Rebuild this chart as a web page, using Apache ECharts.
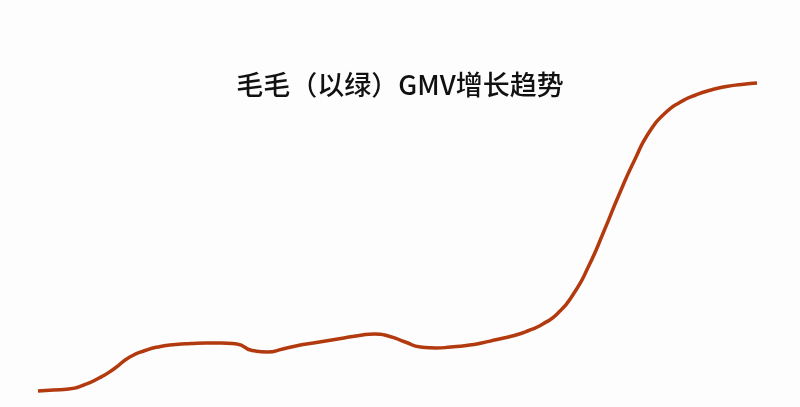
<!DOCTYPE html>
<html>
<head>
<meta charset="utf-8">
<script src="https://cdn.jsdelivr.net/npm/echarts@6/dist/echarts.min.js"></script>
<style>
  html, body { margin: 0; padding: 0; background: #fdfdfd; }
  #main { width: 800px; height: 407px; }
</style>
</head>
<body>
<div id="main"></div>
<script>
// 48 periods, GMV (arbitrary units)
var periods = [];
for (var i = 1; i <= 48; i++) periods.push(String(i));
var gmv = [9, 10, 11, 15, 22, 31.5, 43, 49.5, 53.5, 55.5, 56.5, 57,
	57, 56, 49.5, 48, 51, 54.5, 57, 59.5, 62, 64.5, 66, 63.5,
	58, 53, 52, 53, 54.5, 57, 60.5, 64, 69, 76, 87, 106,
	134, 169, 206, 240, 269, 287, 298, 305, 310, 313.5, 315.5, 317];
var titleText = '毛毛（以绿）GMV增长趋势';

var chart = echarts.init(document.getElementById('main'));

chart.setOption({
	backgroundColor: '#fdfdfd',
	animation: false,
	title: {
		text: titleText,
		left: 'center',
		top: 66,
		textStyle: {
			fontFamily: 'Noto Sans CJK SC',
			fontSize: 27,
			fontWeight: 500,
			color: '#111'
		}
	},
	grid: { left: 38, right: 43, top: 60, bottom: 7 },
	xAxis: {
		type: 'category',
		data: periods,
		boundaryGap: false,
		show: false
	},
	yAxis: {
		type: 'value',
		min: 0,
		max: 340,
		show: false
	},
	series: [{
		type: 'line',
		data: gmv,
		smooth: 0.6,
		symbol: 'none',
		lineStyle: { color: '#b23a0e', width: 3.5 }
	}]
});
</script>
</body>
</html>
